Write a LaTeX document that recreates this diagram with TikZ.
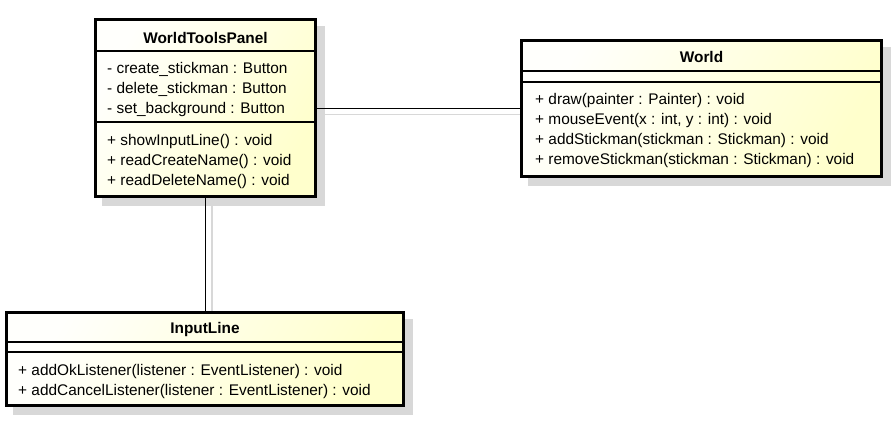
\documentclass[tikz,border=0pt]{standalone}
\usepackage{fontspec}
\setmainfont{Liberation Sans}
\usetikzlibrary{calc}
\definecolor{ylw}{RGB}{255,255,204}
\definecolor{wht}{RGB}{255,255,252}
\definecolor{shd}{RGB}{216,216,216}
\pgfdeclarelayer{bg}
\pgfsetlayers{bg,main}
\tikzset{
  classbox/.style={draw=black, line width=3pt, rectangle, inner sep=0pt,
    shade, shading=axis, top color=wht, bottom color=ylw, shading angle=60},
  sep/.style={line width=1.3pt, black},
  conn/.style={line width=1.3pt, black},
  connshadow/.style={line width=1.3pt, shd},
  boxshadow/.style={fill=shd},
  title/.style={anchor=base, inner sep=0pt, font=\fontsize{15.4}{18}\selectfont\bfseries},
  member/.style={anchor=base west, inner sep=0pt, font=\fontsize{15.4}{18}\selectfont},
}
\begin{document}
\begin{tikzpicture}[x=1pt, y=-1pt]
\useasboundingbox (0,0) rectangle (891,430);
% class boxes
\node[classbox, minimum width=220pt, minimum height=176.5pt] (wtp) at (205.5,108.25) {};
\node[classbox, minimum width=360pt, minimum height=136pt] (world) at (701.5,108.5) {};
\node[classbox, minimum width=397pt, minimum height=93pt] (il) at (205,358.5) {};
% shadows
\begin{pgfonlayer}{bg}
  \fill[boxshadow] ($(wtp.south west)+(8,8)$) rectangle ($(wtp.north east)+(8,8)$);
  \fill[boxshadow] ($(world.south west)+(8,8)$) rectangle ($(world.north east)+(8,8)$);
  \fill[boxshadow] ($(il.south west)+(8,8)$) rectangle ($(il.north east)+(8,8)$);
  \draw[connshadow] ($(wtp.east)+(8,6.5)$) -- ($(wtp.east -| world.west)+(6,6.5)$);
  \draw[connshadow] ($(wtp.south)+(6.5,8)$) -- ($(wtp.south |- il.north)+(6.5,6)$);
\end{pgfonlayer}
% connectors
\draw[conn] (wtp.east) -- (wtp.east -| world.west);
\draw[conn] (wtp.south) -- (wtp.south |- il.north);
% separators
\draw[sep] (wtp.west |- 0,51) -- (wtp.east |- 0,51);
\draw[sep] (wtp.west |- 0,122) -- (wtp.east |- 0,122);
\draw[sep] (world.west |- 0,71) -- (world.east |- 0,71);
\draw[sep] (world.west |- 0,82) -- (world.east |- 0,82);
\draw[sep] (il.west |- 0,342) -- (il.east |- 0,342);
\draw[sep] (il.west |- 0,352) -- (il.east |- 0,352);
% WorldToolsPanel
\node[title] (wtpT) at (205.5,43.5) {WorldToolsPanel};
\node[member] (wtpA1) at (107,73.5) {- create\_stickman : Button};
\node[member] (wtpA2) at (107,93.5) {- delete\_stickman : Button};
\node[member] (wtpA3) at (107,113.5) {- set\_background : Button};
\node[member] (wtpM1) at (107,145.5) {+ showInputLine() : void};
\node[member] (wtpM2) at (107,165.5) {+ readCreateName() : void};
\node[member] (wtpM3) at (107,185.5) {+ readDeleteName() : void};
% World
\node[title] (worldT) at (701.5,62.5) {World};
\node[member] (worldM1) at (535,104.5) {+ draw(painter : Painter) : void};
\node[member] (worldM2) at (535,124.5) {+ mouseEvent(x : int, y : int) : void};
\node[member] (worldM3) at (535,144.5) {+ addStickman(stickman : Stickman) : void};
\node[member] (worldM4) at (535,164.5) {+ removeStickman(stickman : Stickman) : void};
% InputLine
\node[title] (ilT) at (205,333.5) {InputLine};
\node[member] (ilM1) at (18,375.5) {+ addOkListener(listener : EventListener) : void};
\node[member] (ilM2) at (18,395.5) {+ addCancelListener(listener : EventListener) : void};
\end{tikzpicture}
\end{document}
